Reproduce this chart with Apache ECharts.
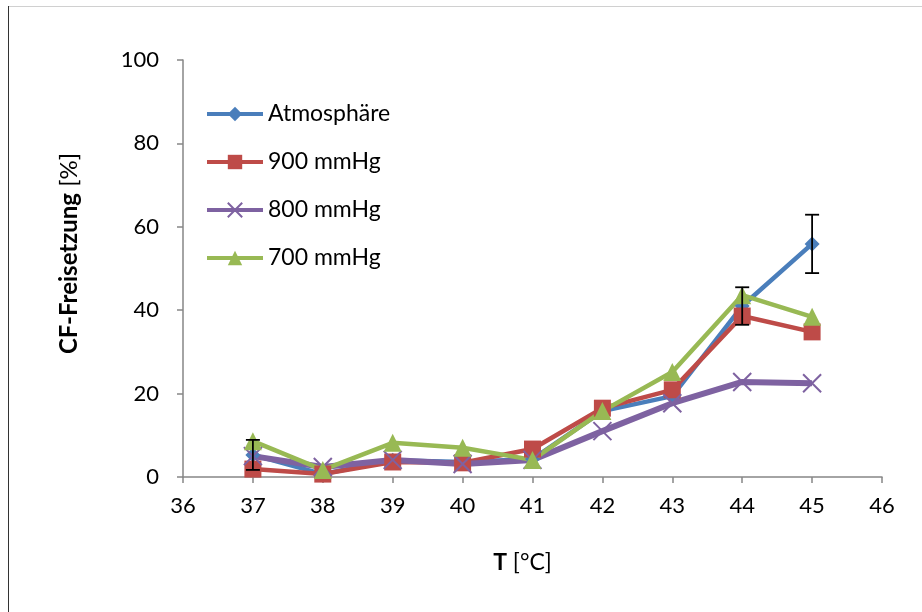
<!DOCTYPE html>
<html><head><meta charset="utf-8">
<script src="https://cdn.jsdelivr.net/npm/echarts@6/dist/echarts.min.js"></script>
<style>html,body{margin:0;padding:0;background:#fff}#c{width:922px;height:612px}</style>
</head><body><div id="c"></div>
<script>
const temps = [37, 38, 39, 40, 41, 42, 43, 44, 45];
const atmo  = [5.3, 0.7, 4.0, 3.6, 4.3, 15.8, 19.4, 41.0, 55.9];
const atmoErr = [3.6, 0, 0, 0, 0, 0, 0, 4.5, 7.0];
const mm900 = [1.9, 0.7, 3.6, 3.4, 6.7, 16.5, 20.9, 38.6, 34.8];
const mm800 = [5.0, 2.4, 4.1, 3.1, 4.1, 11.0, 17.7, 22.8, 22.5];
const mm700 = [8.6, 1.7, 8.2, 7.0, 4.1, 15.8, 25.2, 43.6, 38.4];
const names = ['Atmosphäre', '900 mmHg', '800 mmHg', '700 mmHg'];
const xTicks = [36, 46, 1];
const yTicks = [0, 100, 20];

const font = 'Lato, "Noto Sans", sans-serif';
const pts = a => a.map((v, i) => [temps[i], v]);
const errData = atmoErr.map((e, i) => [temps[i], atmo[i] - e, atmo[i] + e, e]).filter(d => d[3] > 0);

const chart = echarts.init(document.getElementById('c'));
chart.setOption({
  animation: false,
  backgroundColor: '#fff',
  textStyle: { fontFamily: font },
  graphic: [
    { type: 'line', shape: { x1: 8, y1: 6.5, x2: 922, y2: 6.5 }, style: { stroke: '#d0d0d0', lineWidth: 1 } },
    { type: 'line', shape: { x1: 8.5, y1: 6, x2: 8.5, y2: 612 }, style: { stroke: '#333', lineWidth: 1 } }
  ],
  grid: { left: 183, right: 40, top: 60, bottom: 135 },
  legend: {
    orient: 'vertical', left: 200, top: 95, itemGap: 20,
    itemWidth: 56, itemHeight: 18,
    data: names,
    lineStyle: { width: 4 },
    textStyle: { fontSize: 23, lineHeight: 28, color: '#000', fontFamily: font }
  },
  xAxis: {
    type: 'value', min: xTicks[0], max: xTicks[1], interval: xTicks[2],
    axisLine: { lineStyle: { color: '#868686', width: 1.5 } },
    axisTick: { show: true, length: 6, lineStyle: { color: '#868686', width: 1.5 } },
    splitLine: { show: false },
    axisLabel: { fontSize: 22, color: '#000', margin: 18 },
    name: '{b|T} [°C]', nameLocation: 'middle', nameGap: 74,
    nameTextStyle: { fontSize: 23, color: '#000', padding: [0, 20, 0, 0], rich: { b: { fontWeight: 'bold', fontSize: 23 } } }
  },
  yAxis: {
    type: 'value', min: yTicks[0], max: yTicks[1], interval: yTicks[2],
    axisLine: { show: true, lineStyle: { color: '#868686', width: 1.5 } },
    axisTick: { show: true, length: 6, lineStyle: { color: '#868686', width: 1.5 } },
    splitLine: { show: false },
    axisLabel: { fontSize: 22, color: '#000', margin: 24 },
    name: '{b|CF-Freisetzung} [%]', nameLocation: 'middle', nameGap: 102, nameRotate: 90,
    nameTextStyle: { fontSize: 24, color: '#000', padding: [0, 0, 0, 30], rich: { b: { fontWeight: 'bold', fontSize: 24 } } }
  },
  series: [
    { name: names[0], type: 'line', data: pts(atmo), color: '#4A7EBB',
      lineStyle: { width: 4.5 }, symbol: 'diamond', symbolSize: 15, z: 3 },
    { name: names[1], type: 'line', data: pts(mm900), color: '#BE4B48',
      lineStyle: { width: 4.5 }, symbol: 'rect', symbolSize: 17, z: 3 },
    { name: names[2], type: 'line', data: pts(mm800), color: '#7E62A1',
      lineStyle: { width: 6, color: '#7E62A1' }, symbol: 'path://M0,0L10,10M10,0L0,10', symbolSize: 18,
      itemStyle: { color: 'none', borderColor: '#7E62A1', borderWidth: 2 }, z: 3 },
    { name: names[3], type: 'line', data: pts(mm700), color: '#98B954',
      lineStyle: { width: 4.5 }, symbol: 'triangle', symbolSize: 18, z: 3 },
    { type: 'custom', name: 'err', data: errData, z: 5,
      encode: { x: 0, y: [1, 2] },
      renderItem: (params, api) => {
        const x = api.value(0);
        const lo = api.coord([x, api.value(1)]);
        const hi = api.coord([x, api.value(2)]);
        const w = 7;
        const st = { stroke: '#000', lineWidth: 1.8 };
        return { type: 'group', children: [
          { type: 'line', shape: { x1: lo[0], y1: lo[1], x2: hi[0], y2: hi[1] }, style: st },
          { type: 'line', shape: { x1: lo[0] - w, y1: lo[1], x2: lo[0] + w, y2: lo[1] }, style: st },
          { type: 'line', shape: { x1: hi[0] - w, y1: hi[1], x2: hi[0] + w, y2: hi[1] }, style: st }
        ]};
      }
    }
  ]
});
</script></body></html>
